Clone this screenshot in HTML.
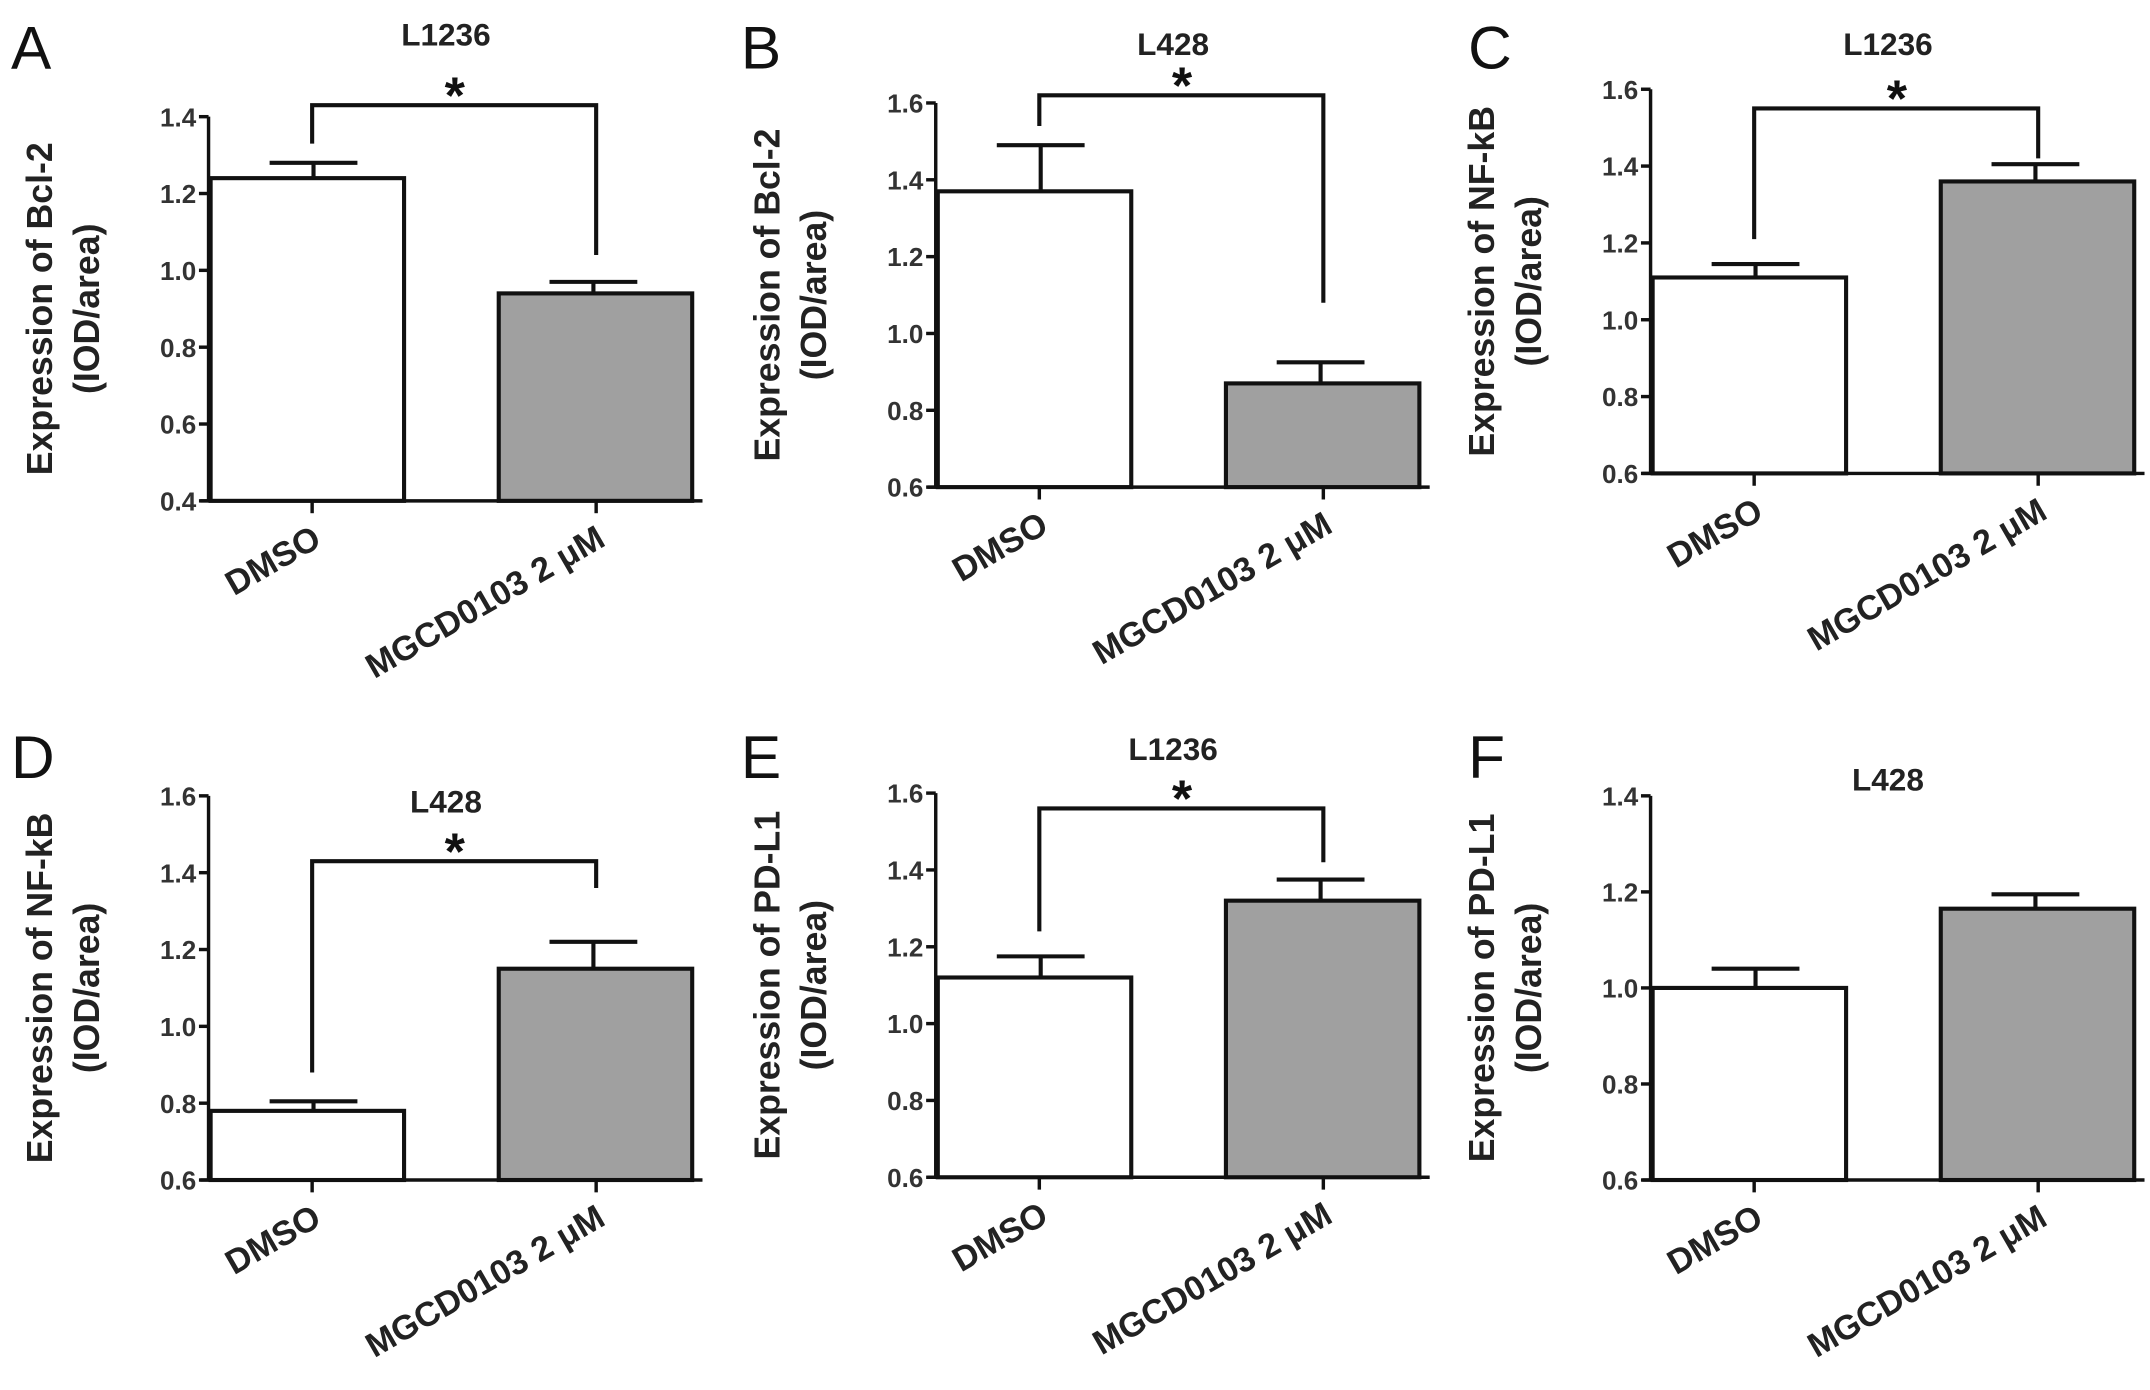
<!DOCTYPE html>
<html><head><meta charset="utf-8"><style>
html,body{margin:0;padding:0;background:#fff;}
svg{display:block;}
text{font-family:"Liberation Sans",Arial,sans-serif;}
</style></head>
<body>
<svg id="fig" width="2150" height="1390" viewBox="0 0 1567 1013" xmlns="http://www.w3.org/2000/svg"></svg>
<script>
const panelLetters = ['A','B','C','D','E','F'];
const panelTitles = ['L1236','L428','L1236','L428','L1236','L428'];
const yTitles = ['Expression of Bcl-2','Expression of Bcl-2','Expression of NF-kB','Expression of NF-kB','Expression of PD-L1','Expression of PD-L1'];
const categories = ['DMSO','MGCD0103 2 μM'];
const meanDMSO = [1.24, 1.37, 1.11, 0.78, 1.12, 1.00];
const meanMGCD = [0.94, 0.87, 1.36, 1.15, 1.32, 1.165];
const errDMSO = [0.04, 0.12, 0.035, 0.025, 0.055, 0.04];
const errMGCD = [0.03, 0.055, 0.045, 0.07, 0.055, 0.03];
const yMin = [0.4, 0.6, 0.6, 0.6, 0.6, 0.6];
const yMax = [1.4, 1.6, 1.6, 1.6, 1.6, 1.4];
const tickStep = [0.2, 0.2, 0.2, 0.2, 0.2, 0.2];
const sigBracket = [true, true, true, true, true, false];
const bracketTopVal = [1.43, 1.62, 1.55, 1.43, 1.56, null];
const bracketLeftVal = [1.33, 1.54, 1.21, 0.88, 1.24, null];
const bracketRightVal = [1.04, 1.08, 1.42, 1.36, 1.42, null];

const layout = [
  {ax:152, base:365, top:85, letterX:8, letterY:50, titleY:33},
  {ax:682, base:355, top:75, letterX:540, letterY:50, titleY:40},
  {ax:1203,base:345, top:65, letterX:1070,letterY:50, titleY:40},
  {ax:152, base:860, top:580,letterX:8, letterY:567, titleY:592},
  {ax:682, base:858, top:578,letterX:540, letterY:567, titleY:554},
  {ax:1203,base:860, top:580,letterX:1070,letterY:567, titleY:576}
];
const svg = document.getElementById('fig');
const NS = 'http://www.w3.org/2000/svg';
function mk(tag, attrs, parent){ const e=document.createElementNS(NS,tag); for(const k in attrs) e.setAttribute(k,attrs[k]); (parent||svg).appendChild(e); return e; }

for(let p=0;p<6;p++){
  const L = layout[p];
  const g = mk('g',{});
  
  
  const y = v => L.base - (v - yMin[p])/(yMax[p]-yMin[p])*(L.base-L.top);
  const xL = L.ax, bw = 141, b1 = xL, b2 = xL+210, axRight = xL+360;
  const cx1 = b1+bw/2+6, cx2 = b2+bw/2+2;
  const lt = mk('text',{x:L.letterX,y:L.letterY,'font-size':44,fill:'#111'},g); lt.textContent=panelLetters[p];
   
  const tt = mk('text',{x:xL+173,y:L.titleY,'font-size':23,'font-weight':'bold','text-anchor':'middle',fill:'#222'},g); tt.textContent=panelTitles[p];
   
  const cy = (L.base+L.top)/2;
  const yt = mk('text',{transform:`translate(${xL-114},${cy}) rotate(-90)`,'font-size':26,'font-weight':'bold','text-anchor':'middle',fill:'#222'},g); yt.textContent=yTitles[p];
   
  const yt2 = mk('text',{transform:`translate(${xL-80},${cy}) rotate(-90)`,'font-size':26,'font-weight':'bold','text-anchor':'middle',fill:'#222'},g); yt2.textContent='(IOD/area)';
   
  const vals=[meanDMSO[p],meanMGCD[p]], errs=[errDMSO[p],errMGCD[p]], bx=[b1,b2], fills=['#fff','#a0a0a0'];
  for(let i=0;i<2;i++){
    const r = mk('rect',{x:bx[i]+1.5,y:y(vals[i]),width:bw,height:L.base-y(vals[i]),fill:fills[i],stroke:'#111','stroke-width':3},g);
     
    const ex = bx[i]+bw/2+(i?0:6);
    const e1 = mk('line',{x1:ex,x2:ex,y1:y(vals[i]),y2:y(vals[i]+errs[i]),stroke:'#111','stroke-width':3},g);
     
    const e2 = mk('line',{x1:ex-32,x2:ex+32,y1:y(vals[i]+errs[i]),y2:y(vals[i]+errs[i]),stroke:'#111','stroke-width':3},g);
     
  }
  const ya = mk('line',{x1:xL,x2:xL,y1:L.top,y2:L.base,stroke:'#111','stroke-width':2.5},g);
   
  const xa = mk('line',{x1:xL-6,x2:axRight,y1:L.base,y2:L.base,stroke:'#111','stroke-width':2.5},g);
   
  const n = Math.round((yMax[p]-yMin[p])/tickStep[p]);
  for(let k=0;k<=n;k++){
    const v = yMin[p]+k*tickStep[p];
    mk('line',{x1:xL-7,x2:xL,y1:y(v),y2:y(v),stroke:'#111','stroke-width':2.5},g);
    const tl = mk('text',{x:xL-9,y:y(v)+7,'font-size':19,'font-weight':'bold','text-anchor':'end',fill:'#333'},g); tl.textContent=v.toFixed(1);
     
  }
  for(let i=0;i<2;i++){
    const tx = i? cx2 : cx1-1;
    mk('line',{x1:tx,x2:tx,y1:L.base,y2:L.base+9,stroke:'#111','stroke-width':2.5},g);
    const xl = mk('text',{transform:`translate(${tx+8},${L.base+32}) rotate(-30)`,'font-size':25,'font-weight':'bold','text-anchor':'end',fill:'#222'},g); xl.textContent=categories[i];
     
  }
  if(sigBracket[p]){
    const bt=y(bracketTopVal[p]);
    const br = mk('polyline',{points:`${cx1-1},${y(bracketLeftVal[p])} ${cx1-1},${bt} ${cx2},${bt} ${cx2},${y(bracketRightVal[p])}`,fill:'none',stroke:'#111','stroke-width':3},g);
     
    const st = mk('text',{x:(cx1+cx2)/2,y:bt+6,'font-size':38,'font-weight':'bold','text-anchor':'middle',fill:'#111'},g); st.textContent='*';
     
  }
}
</script>
</body></html>
